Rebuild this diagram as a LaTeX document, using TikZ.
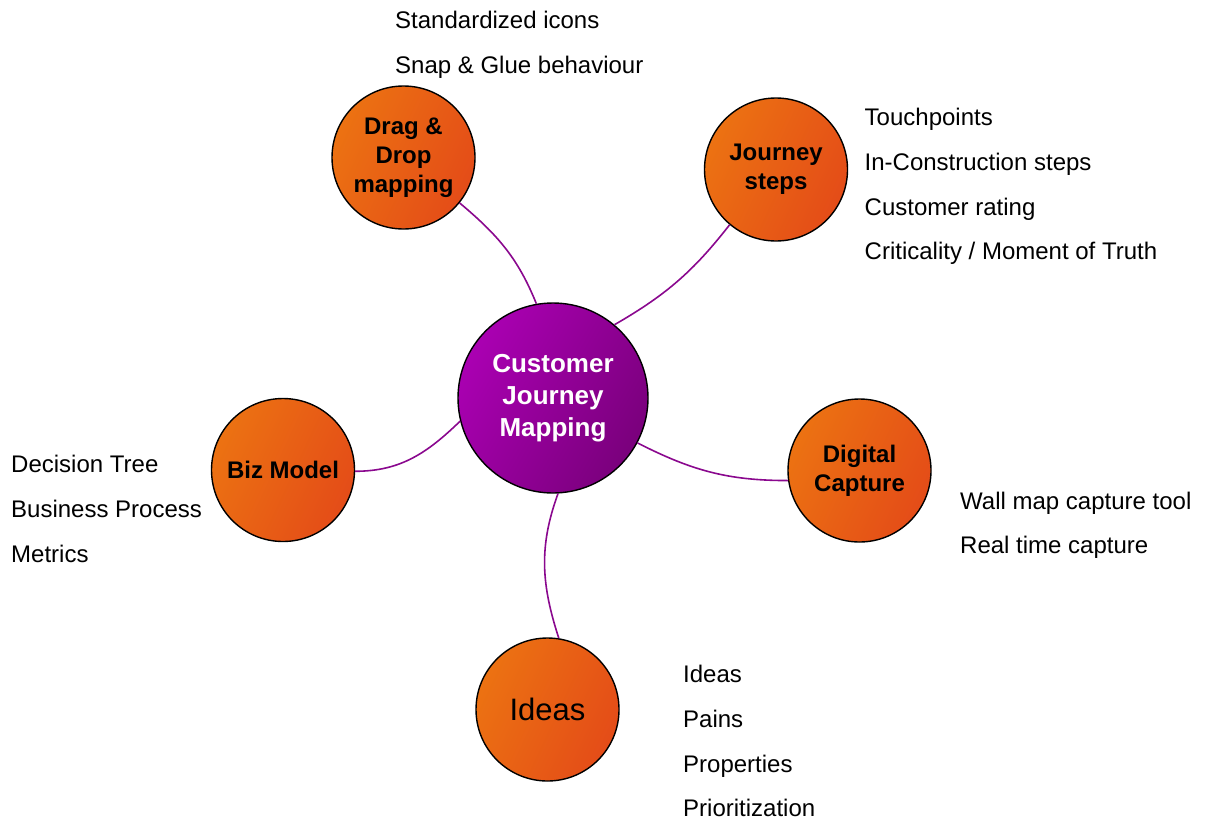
\documentclass[tikz,border=0pt]{standalone}
\usepackage{fontspec}
\setmainfont{Liberation Sans}
\definecolor{HubLight}{RGB}{170,0,178}
\definecolor{HubDark}{RGB}{122,0,124}
\definecolor{SpokeLight}{RGB}{236,114,18}
\definecolor{SpokeDark}{RGB}{228,76,24}
\definecolor{LinkClr}{RGB}{138,8,142}

\tikzset{
  hub/.style={circle,draw=black,line width=1.4pt,minimum size=190pt,inner sep=0pt,
    left color=HubLight,right color=HubDark,shading angle=60,text=white,align=center,
    font=\fontsize{26}{32}\selectfont\bfseries},
  spoke/.style={circle,draw=black,line width=1.4pt,minimum size=143pt,inner sep=0pt,
    left color=SpokeLight,right color=SpokeDark,shading angle=65,align=center,
    font=\fontsize{24}{29}\selectfont\bfseries},
  item/.style={anchor=base west,inner sep=0pt,font=\fontsize{24}{24}\selectfont},
  link/.style={draw=LinkClr,line width=1.6pt}
}

\begin{document}
\begin{tikzpicture}[x=1pt,y=-1pt]
\useasboundingbox (0,0) rectangle (1206,822);

\node[hub] (cjm) at (553,398) {Customer\\Journey\\Mapping};

\node[spoke] (drag) at (403.5,157.5) {Drag \&\\Drop\\mapping};
\node[spoke] (steps) at (776,169.5) {Journey\\steps};
\node[spoke] (biz) at (283,470) {Biz Model};
\node[spoke] (capture) at (859.5,470.5) {Digital\\Capture};
\node[spoke,font=\fontsize{31}{31}\selectfont] (ideas) at (547.5,709.5) {Ideas};

\draw[link] (cjm.100) to[out=112,in=-40] (drag.-39);
\draw[link] (cjm.50) to[out=30,in=232] (steps.230);
\draw[link] (cjm.194) to[out=224,in=0] (biz.-1);
\draw[link] (cjm.-28) to[out=-27,in=180] (capture.188);
\draw[link] (cjm.-87) to[out=-110,in=108] (ideas.81);

\node[item] (drag1) at (395,28.5) {Standardized icons};
\node[item] (drag2) at (395,73.2) {Snap \& Glue behaviour};

\node[item] (steps1) at (864.5,125.7) {Touchpoints};
\node[item] (steps2) at (864.5,170.4) {In-Construction steps};
\node[item] (steps3) at (864.5,215.1) {Customer rating};
\node[item] (steps4) at (864.5,259.8) {Criticality / Moment of Truth};

\node[item] (biz1) at (11,472.7) {Decision Tree};
\node[item] (biz2) at (11,517.4) {Business Process};
\node[item] (biz3) at (11,562.1) {Metrics};

\node[item] (capture1) at (960,509) {Wall map capture tool};
\node[item] (capture2) at (960,553.7) {Real time capture};

\node[item] (ideas1) at (683,682.7) {Ideas};
\node[item] (ideas2) at (683,727.4) {Pains};
\node[item] (ideas3) at (683,772.1) {Properties};
\node[item] (ideas4) at (683,816.8) {Prioritization};

\end{tikzpicture}
\end{document}
